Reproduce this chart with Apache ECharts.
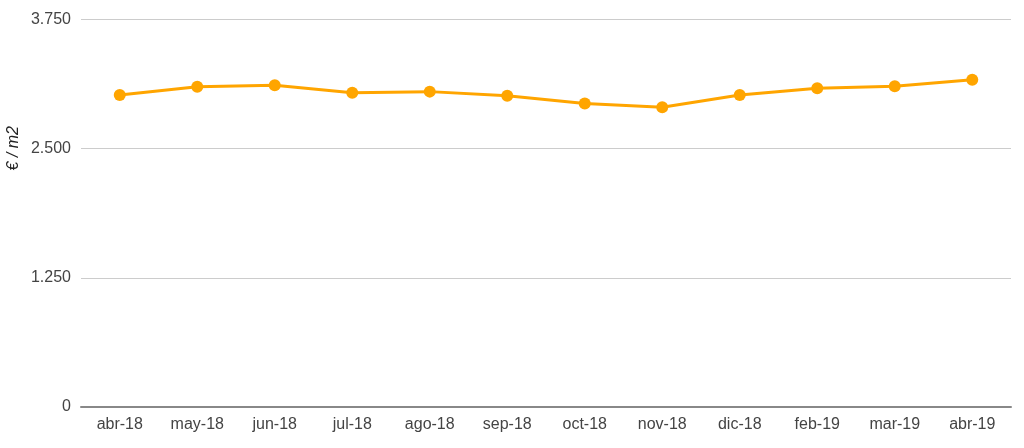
<!DOCTYPE html>
<html>
<head>
<meta charset="utf-8">
<script src="https://cdn.jsdelivr.net/npm/echarts@6/dist/echarts.min.js"></script>
<style>
html,body{margin:0;padding:0;background:#fff;}
#chart{width:1024px;height:448px;}
</style>
</head>
<body>
<div id="chart"></div>
<script>
var categories = ['abr-18','may-18','jun-18','jul-18','ago-18','sep-18','oct-18','nov-18','dic-18','feb-19','mar-19','abr-19'];
var values = [3020, 3100, 3114, 3040, 3052, 3011, 2936, 2901, 3020, 3085, 3105, 3166];
var yTicks = [0, 1250, 2500, 3750];
var yTitle = '€ / m2';

function fmt(v){
  return String(v).replace(/\B(?=(\d{3})+(?!\d))/g, '.');
}

var chart = echarts.init(document.getElementById('chart'));
chart.setOption({
  animation: false,
  grid: {left: 81, right: 13, top: 19.5, bottom: 41},
  xAxis: {
    type: 'category',
    data: categories,
    boundaryGap: true,
    axisLine: {lineStyle: {color: '#888', width: 2}},
    axisTick: {show: false},
    axisLabel: {color: '#444', fontSize: 16, fontFamily: 'Liberation Sans', margin: 10}
  },
  yAxis: {
    type: 'value',
    min: yTicks[0],
    max: yTicks[yTicks.length-1],
    interval: yTicks[1]-yTicks[0],
    axisLine: {show: false},
    axisTick: {show: false},
    splitLine: {lineStyle: {color: '#cccccc', width: 1}},
    axisLabel: {color: '#444', fontSize: 16, fontFamily: 'Liberation Sans', margin: 10, formatter: fmt}
  },
  graphic: [{
    type: 'text',
    left: 6,
    top: 126,
    rotation: Math.PI/2,
    style: {text: yTitle, fill: '#222', font: 'italic 16px "Liberation Sans"'}
  }],
  series: [{
    type: 'line',
    data: values,
    symbol: 'circle',
    symbolSize: 12,
    lineStyle: {color: '#ffa500', width: 3},
    itemStyle: {color: '#ffa500'}
  }]
});
</script>
</body>
</html>
